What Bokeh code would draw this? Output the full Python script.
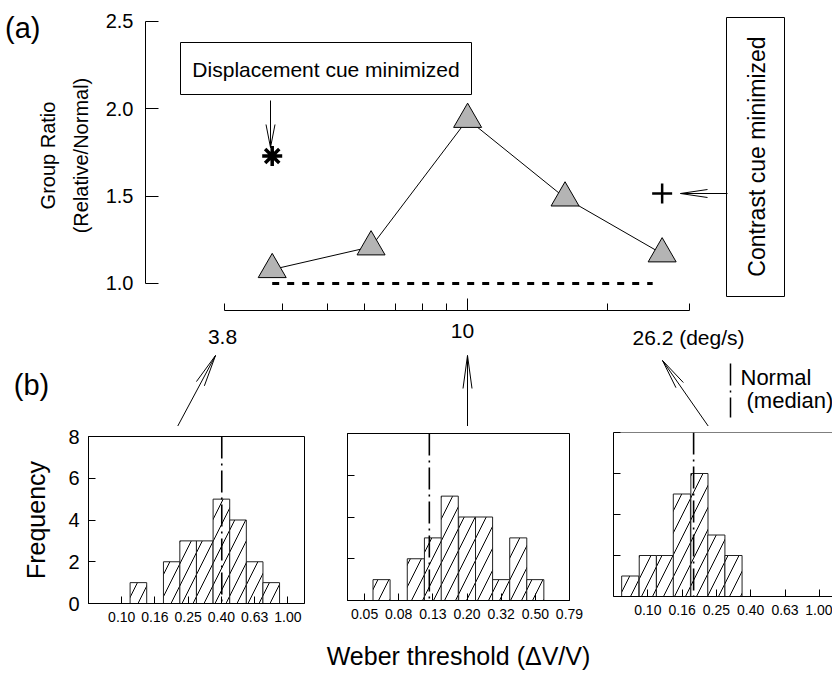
import math
from bokeh.plotting import figure
from bokeh.models import (Range1d, FixedTicker, BasicTickFormatter, Label, Arrow,
                          BoxAnnotation, Span, ColumnDataSource, LinearAxis)
from bokeh.layouts import column, row
from bokeh.embed import file_html
from bokeh.resources import INLINE

FONT = "Liberation Sans"

# ---------------- panel (a) data ----------------
speed = [3.8, 6.2, 10.0, 16.2, 26.2]               # deg/s
group_ratio = [1.08, 1.21, 1.94, 1.49, 1.17]       # Relative / Normal
displacement_speed = [3.8]
displacement_ratio = [1.73]
contrast_speed = [26.2]
contrast_ratio = [1.515]
normal_speed = [3.8, 25.0]
normal_ratio = [1.0, 1.0]
ratio_ticks = [1.0, 1.5, 2.0, 2.5]
ratio_tick_labels = ["1.0", "1.5", "2.0", "2.5"]
speed_major_ticks = [10]
speed_minor_ticks = [3, 4, 5, 6, 7, 8, 9, 20, 30]
hist_speed_labels = ["3.8", "10", "26.2 (deg/s)"]

# ---------------- panel (b) data ----------------
h1_bins = [0.126, 0.200, 0.251, 0.316, 0.398, 0.501, 0.631, 0.794]
h1_counts = [1, 2, 3, 3, 5, 4, 2, 1]
h2_bins = [0.063, 0.100, 0.126, 0.158, 0.200, 0.251, 0.316, 0.398, 0.501]
h2_counts = [1, 2, 3, 5, 4, 4, 1, 3, 1]
h3_bins = [0.079, 0.100, 0.126, 0.158, 0.200, 0.251, 0.316]
h3_counts = [1, 2, 2, 5, 6, 3, 2]
medians = [0.40, 0.12, 0.185]
h13_ticks = [0.1, 0.1585, 0.2512, 0.3981, 0.631, 1.0]
h13_tick_labels = ["0.10", "0.16", "0.25", "0.40", "0.63", "1.00"]
h2_ticks = [0.0501, 0.0794, 0.1259, 0.1995, 0.3162, 0.5012, 0.7943]
h2_tick_labels = ["0.05", "0.08", "0.13", "0.20", "0.32", "0.50", "0.79"]
freq_ticks = [0, 2, 4, 6, 8]
BIN_HALF = 10 ** 0.05  # half of a 0.1-decade bin


def style_axis(ax, size):
    ax.axis_line_color = "black"
    ax.major_tick_line_color = "black"
    ax.major_label_text_font = FONT
    ax.major_label_text_font_size = f"{size}px"
    ax.major_label_text_color = "black"
    ax.axis_label_text_font = FONT
    ax.axis_label_text_font_style = "normal"
    ax.axis_label_text_color = "black"


def add_label(fig, text, x, y, size, units="screen", align="center", baseline="middle",
              angle=0.0):
    fig.add_layout(Label(x=x, y=y, x_units=units, y_units=units, text=text,
                         text_font=FONT, text_font_size=f"{size}px", text_color="black",
                         text_align=align, text_baseline=baseline, angle=angle))


def seg(fig, x0, y0, x1, y1, units, lw=1.0, dash="solid"):
    fig.add_layout(Arrow(start=None, end=None, x_start=x0, y_start=y0, x_end=x1, y_end=y1,
                         start_units=units, end_units=units,
                         line_color="black", line_width=lw, line_dash=dash))


def arrow(fig, tip, tail, head_len, head_half, conv, units, lw=1.0):
    """Open narrow arrow; tip/tail given in canvas pixels, conv maps to fig units."""
    (x1, y1), (x0, y0) = tip, tail
    seg(fig, *conv(x0, y0), *conv(x1, y1), units, lw)
    dx, dy = x0 - x1, y0 - y1
    L = math.hypot(dx, dy)
    ux, uy = dx / L, dy / L
    px, py = -uy, ux
    for s in (1, -1):
        hx = x1 + ux * head_len + s * px * head_half
        hy = y1 + uy * head_len + s * py * head_half
        seg(fig, *conv(x1, y1), *conv(hx, hy), units, lw)


# ================= panel (a) =================
A_H = 318
FL, FB = 145, 310  # frame left / bottom in canvas px
pa = figure(width=832, height=A_H, x_axis_type="log",
            x_range=Range1d(2.0292, 60.90), y_range=Range1d(0.8454, 2.6202),
            output_backend="svg", toolbar_location=None,
            min_border_left=FL, min_border_right=0, min_border_top=0,
            min_border_bottom=A_H - FB)
pa.frame_align = False
pa.outline_line_color = None
pa.grid.visible = False


def a_conv(px, py):
    return px - FL, FB - py


ya = pa.yaxis[0]
style_axis(ya, 20)
ya.ticker = FixedTicker(ticks=ratio_ticks)
ya.major_label_overrides = dict(zip(ratio_ticks, ratio_tick_labels))
ya.bounds = (ratio_ticks[0], ratio_ticks[-1])
ya.major_tick_in = 13
ya.major_tick_out = 0
ya.minor_tick_line_color = None
ya.major_label_standoff = 12
ya.axis_label = "Group Ratio\n(Relative/Normal)"
ya.axis_label_text_font_size = "20px"
ya.axis_label_text_line_height = 1.5
ya.axis_label_standoff = 11

# panel tag "(a)" carried by a bare outer axis (horizontal tick label)
tag_y = 2.46
tag_axis = LinearAxis(ticker=FixedTicker(ticks=[tag_y]),
                      major_label_overrides={tag_y: "(a)"},
                      axis_line_color=None, major_tick_line_color=None,
                      minor_tick_line_color=None, major_label_standoff=-13,
                      major_label_text_font=FONT, major_label_text_font_size="29px",
                      major_label_text_color="black")
pa.add_layout(tag_axis, "left")

xa = pa.xaxis[0]
style_axis(xa, 20)
xa.ticker = FixedTicker(ticks=speed_major_ticks, minor_ticks=speed_minor_ticks)
xa.formatter = BasicTickFormatter()
xa.major_label_overrides = {t: "" for t in speed_major_ticks}
xa.major_label_text_font_size = "0px"
xa.major_label_standoff = 0
xa.bounds = (speed_minor_ticks[0], speed_minor_ticks[-1])
xa.major_tick_in = 12
xa.major_tick_out = 0
xa.minor_tick_in = 7
xa.minor_tick_out = 0
xa.minor_tick_line_color = "black"

# reference line (ratio = 1)
pa.line(normal_speed, normal_ratio, line_color="black", line_width=3, line_dash="7 8")
# group ratio line + triangles
pa.line(speed, group_ratio, line_color="black", line_width=1)
pa.scatter(speed, group_ratio, marker="triangle", size=28, fill_color="#b4b4b4",
           line_color="black", line_width=1)
pa.scatter(displacement_speed, displacement_ratio, marker="asterisk", size=20,
           line_color="black", line_width=3.5)
pa.scatter(contrast_speed, contrast_ratio, marker="cross", size=20,
           line_color="black", line_width=2.5)


def box(fig, l, r, t, b):
    (sl, st), (sr, sb) = a_conv(l, t), a_conv(r, b)
    fig.add_layout(BoxAnnotation(left=sl, right=sr, top=st, bottom=sb,
                                 left_units="screen", right_units="screen",
                                 top_units="screen", bottom_units="screen",
                                 fill_color="white", fill_alpha=1, line_color="black",
                                 line_alpha=1, line_width=1))


box(pa, 180, 471, 42, 94)
add_label(pa, "Displacement cue minimized", *a_conv(325.5, 69), 21)
box(pa, 726, 784, 17, 296)
add_label(pa, "Contrast cue minimized", *a_conv(756, 156), 23, angle=math.pi / 2)

arrow(pa, (270, 147), (270, 100), 23, 4.5, a_conv, "screen")
arrow(pa, (680, 193), (727, 193), 27, 4.0, a_conv, "screen")

# ================= middle strip (speed labels, arrows, legend) =================
M_TOP, M_BOT = A_H, 426
pm = figure(width=832, height=M_BOT - M_TOP, x_range=Range1d(0, 832),
            y_range=Range1d(M_BOT, M_TOP), output_backend="svg", toolbar_location=None,
            x_axis_location=None, y_axis_location=None,
            min_border_left=0, min_border_right=0, min_border_top=0, min_border_bottom=0)
pm.frame_align = False
pm.outline_line_color = None
pm.grid.visible = False


def m_conv(px, py):
    return px, py


add_label(pm, "(b)", 31, 384, 29, units="data")
add_label(pm, hist_speed_labels[0], 222, 336, 21, units="data")
add_label(pm, hist_speed_labels[1], 462, 330, 21, units="data")
add_label(pm, hist_speed_labels[2], 688, 337, 21, units="data")
arrow(pm, (215, 355), (177, 426), 32, 4.5, m_conv, "data")
arrow(pm, (467, 355), (467, 426), 33, 4.5, m_conv, "data")
arrow(pm, (662, 360), (708, 426), 30, 4.5, m_conv, "data")
seg(pm, 730, 363, 730, 417, "data", 1.5, "22 5 2 5")
add_label(pm, "Normal", 740, 377, 22, units="data", align="left")
add_label(pm, "(median)", 746, 400, 22, units="data", align="left")

# ================= panel (b) =================
ROW_TOP = M_BOT
H = 675 - ROW_TOP


def hist(width, left, right, top, bottom, xr, bins, counts, ticks, tick_labels,
         median, show_y_labels):
    p = figure(width=width, height=H, x_axis_type="log", x_range=Range1d(*xr),
               y_range=Range1d(freq_ticks[0], freq_ticks[-1]),
               output_backend="svg", toolbar_location=None,
               min_border_left=left, min_border_right=right,
               min_border_top=top - ROW_TOP, min_border_bottom=ROW_TOP + H - bottom)
    p.frame_align = False
    p.grid.visible = False
    p.outline_line_color = "black"
    p.outline_line_alpha = 1
    src = ColumnDataSource(dict(
        left=[b / BIN_HALF for b in bins], right=[b * BIN_HALF for b in bins],
        top=counts, bottom=[0] * len(counts)))
    p.quad(left="left", right="right", top="top", bottom="bottom", source=src,
           fill_color="white", line_color="#222222", line_width=1,
           hatch_pattern="/", hatch_scale=22, hatch_weight=1, hatch_color="black")
    p.add_layout(Span(location=median, dimension="height", line_color="black",
                      line_width=1.6, line_dash="22 5 2 5"))
    xax = p.xaxis[0]
    style_axis(xax, 14)
    xax.ticker = FixedTicker(ticks=ticks)
    xax.formatter = BasicTickFormatter()
    xax.major_label_overrides = dict(zip(ticks, tick_labels))
    xax.major_tick_in = 7
    xax.major_tick_out = 0
    xax.minor_tick_line_color = None
    xax.major_label_standoff = 8
    yax = p.yaxis[0]
    style_axis(yax, 20)
    yax.ticker = FixedTicker(ticks=freq_ticks)
    yax.major_tick_in = 7
    yax.major_tick_out = 0
    yax.minor_tick_line_color = None
    if show_y_labels:
        yax.major_label_standoff = 9
    else:
        yax.major_label_overrides = {t: "" for t in freq_ticks}
        yax.major_label_standoff = 0
    return p


h1 = hist(305, 88, 1, 436, 603, (10 ** -1.2, 10 ** 0.1), h1_bins, h1_counts,
          h13_ticks, h13_tick_labels, medians[0], True)
h1.yaxis[0].axis_label = "Frequency"
h1.yaxis[0].axis_label_text_font_size = "25px"
h1.yaxis[0].axis_label_standoff = 15

h2 = hist(305, 42, 41, 433, 600, (10 ** -1.4, 10 ** -0.1), h2_bins, h2_counts,
          h2_ticks, h2_tick_labels, medians[1], False)
h2.xaxis[0].axis_label = "Weber threshold (\u0394V/V)"
h2.xaxis[0].axis_label_text_font_size = "25px"
h2.xaxis[0].axis_label_standoff = 20

h3 = hist(222, 3, 0, 432, 596, (10 ** -1.2, 10 ** 0.077), h3_bins, h3_counts,
          h13_ticks, h13_tick_labels, medians[2], False)
h3.outline_line_color = None
h3.add_layout(Span(location=freq_ticks[-1], dimension="width", line_color="black",
                   line_width=1))

layout = column(pa, pm, row(h1, h2, h3, spacing=0), spacing=0)

with open("out.html", "w") as f:
    f.write(file_html(layout, INLINE))
